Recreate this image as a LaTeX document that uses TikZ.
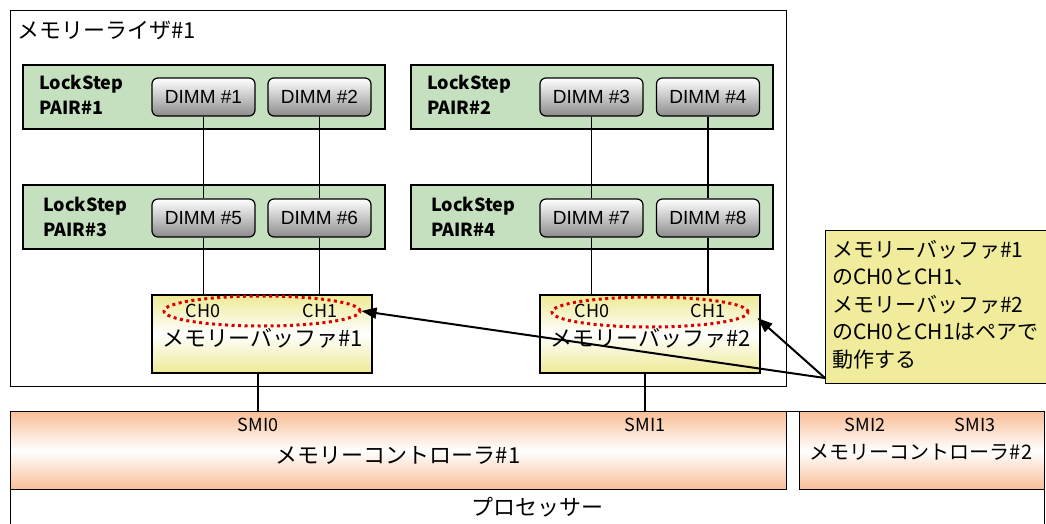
\documentclass[tikz,border=0pt]{standalone}
\usepackage{fontspec}
\setmainfont{Noto Sans CJK JP}
\newfontfamily\dimmfont{Liberation Sans}
\usetikzlibrary{arrows.meta,shapes.geometric}

\definecolor{pairgreen}{RGB}{196,224,190}
\definecolor{bufyellow}{RGB}{238,234,150}
\definecolor{ctlorange}{RGB}{248,190,150}
\definecolor{noteyellow}{RGB}{240,236,156}

\tikzset{
  outerbox/.style={draw, line width=1pt, anchor=north west, inner sep=0pt},
  pairbox/.style={draw, line width=1.2pt, fill=pairgreen, minimum width=362, minimum height=64},
  pairlabel/.style={align=left, anchor=west, font=\fontsize{18}{25}\selectfont\bfseries, inner sep=0pt},
  dimm/.style={draw, line width=1.2pt, rounded corners=6pt, top color=white, bottom color=black!45,
    minimum width=103, minimum height=38, font=\dimmfont\fontsize{19}{19}\selectfont},
  buffer/.style={draw, line width=1.2pt, top color=bufyellow, bottom color=bufyellow, middle color=white,
    minimum width=220, minimum height=78},
  ring/.style={draw=red!85!black, ellipse, line width=3pt, dash pattern=on 3pt off 3.5pt,
    minimum width=196, minimum height=30, inner sep=0pt},
  ctl/.style={draw, line width=1.2pt, top color=ctlorange, bottom color=ctlorange, middle color=white,
    anchor=north west, minimum height=78},
  small/.style={font=\fontsize{18}{18}\selectfont, inner sep=0pt},
  big/.style={font=\fontsize{22}{22}\selectfont, inner sep=0pt},
  wire/.style={line width=1.4pt},
  pointer/.style={line width=2pt, -{Triangle[length=15pt,width=11pt]}}
}

\begin{document}
\begin{tikzpicture}[x=1pt, y=-1pt]
  \useasboundingbox (0,0) rectangle (1046,523);

  % processor and memory riser outlines
  \node[outerbox, minimum width=1034, minimum height=130] (cpu) at (10,411) {};
  \node[outerbox, minimum width=776, minimum height=376] (riser) at (10,10) {};
  \node[big, anchor=west] (risertitle) at (17,30) {メモリーライザ\#1};

  % lockstep pairs
  \node[pairbox] (pair1) at (204,97) {};
  \node[pairbox] (pair2) at (592,97) {};
  \node[pairbox] (pair3) at (204,217) {};
  \node[pairbox] (pair4) at (592,217) {};
  \node[pairlabel] (lbl1) at (39,95) {LockStep\\PAIR\#1};
  \node[pairlabel] (lbl2) at (427,95) {LockStep\\PAIR\#2};
  \node[pairlabel] (lbl3) at (43,217) {LockStep\\PAIR\#3};
  \node[pairlabel] (lbl4) at (431,217) {LockStep\\PAIR\#4};

  % DIMMs
  \node[dimm] (d1) at (203.5,97) {DIMM \#1};
  \node[dimm] (d2) at (319.5,97) {DIMM \#2};
  \node[dimm] (d3) at (591.5,97) {DIMM \#3};
  \node[dimm] (d4) at (708,97) {DIMM \#4};
  \node[dimm] (d5) at (203.5,218) {DIMM \#5};
  \node[dimm] (d6) at (319.5,218) {DIMM \#6};
  \node[dimm] (d7) at (591.5,218) {DIMM \#7};
  \node[dimm] (d8) at (708,218) {DIMM \#8};

  % memory buffers
  \node[buffer] (buf1) at (262,334) {};
  \node[buffer] (buf2) at (650,334) {};
  \node[small] (ch0a) at (203,311) {CH0};
  \node[small] (ch1a) at (320,311) {CH1};
  \node[small] (ch0b) at (592,311) {CH0};
  \node[small] (ch1b) at (708,311) {CH1};
  \node[big] (buflbl1) at (263,338) {メモリーバッファ\#1};
  \node[big] (buflbl2) at (651,338) {メモリーバッファ\#2};
  \node[ring] (ring1) at (262,311) {};
  \node[ring] (ring2) at (650,312) {};

  % memory controllers
  \node[ctl, minimum width=776] (ctl1) at (10,411) {};
  \node[ctl, minimum width=245] (ctl2) at (799,411) {};
  \node[small] (smi0) at (258,425) {SMI0};
  \node[small] (smi1) at (645,425) {SMI1};
  \node[small] (smi2) at (865,425) {SMI2};
  \node[small] (smi3) at (975,425) {SMI3};
  \node[big] (ctllbl1) at (398,455) {メモリーコントローラ\#1};
  \node[font=\fontsize{20}{20}\selectfont, inner sep=0pt] (ctllbl2) at (921,452) {メモリーコントローラ\#2};
  \node[big] (cpulbl) at (537,507) {プロセッサー};

  % wiring
  \draw[wire] (d1) -- (d5);
  \draw[wire] (d2) -- (d6);
  \draw[wire] (d3) -- (d7);
  \draw[wire] (d4) -- (d8);
  \draw[wire] (d5) -- (d5 |- buf1.north);
  \draw[wire] (d6) -- (d6 |- buf1.north);
  \draw[wire] (d7) -- (d7 |- buf2.north);
  \draw[wire] (d8) -- (d8 |- buf2.north);
  \draw[wire] (smi0 |- buf1.south) -- (smi0 |- ctl1.north);
  \draw[wire] (smi1 |- buf2.south) -- (smi1 |- ctl1.north);

  % note
  \node[outerbox, fill=noteyellow, line width=1.2pt, minimum width=240, minimum height=153] (note) at (825,230) {};
  \node[anchor=north west, align=left, inner sep=0pt, font=\fontsize{21}{27.5}\selectfont] (notetext) at (832,240)
    {メモリーバッファ\#1\\のCH0とCH1、\\メモリーバッファ\#2\\のCH0とCH1はペアで\\動作する};
  \coordinate (tail) at (825,378);
  \draw[pointer] (tail) -- (ring1.east);
  \draw[pointer] (tail) -- ([xshift=8pt,yshift=-6pt]ring2.east);
\end{tikzpicture}
\end{document}
